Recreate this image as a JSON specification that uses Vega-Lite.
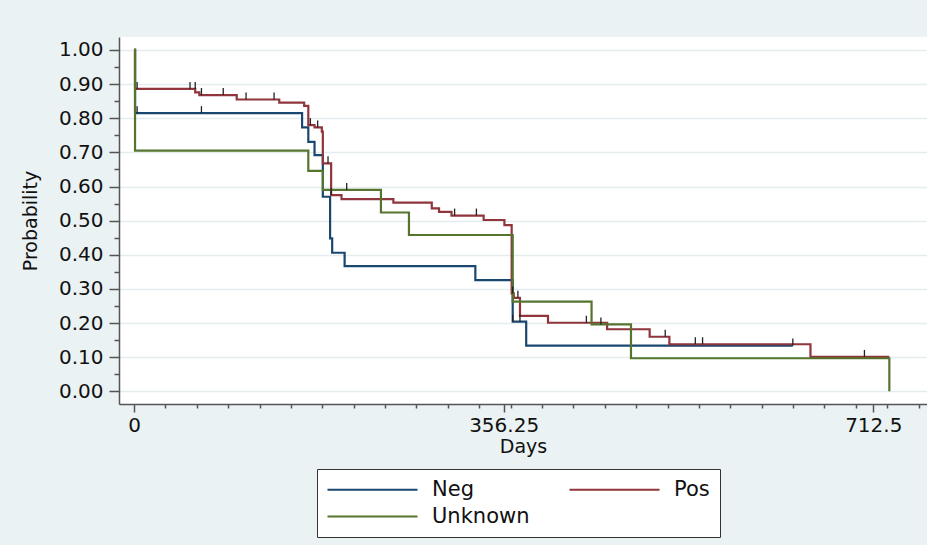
{
  "$schema": "https://vega.github.io/schema/vega-lite/v6.json",
  "width": 808,
  "height": 367,
  "autosize": {"type": "none"},
  "padding": {"left": 119, "top": 37, "right": 0, "bottom": 141},
  "background": "#EAF2F3",
  "config": {
    "font": "DejaVu Sans",
    "view": {"fill": "white", "stroke": null},
    "axis": {
      "domainColor": "#555555",
      "domainWidth": 1.5,
      "tickColor": "#555555",
      "tickWidth": 1.5,
      "labelColor": "#111111",
      "titleColor": "#111111",
      "titleFontWeight": "normal"
    }
  },
  "datasets": {
    "curves": [
      {"group": "Neg", "day": 0, "surv": 1.0},
      {"group": "Neg", "day": 1, "surv": 0.815},
      {"group": "Neg", "day": 162, "surv": 0.773},
      {"group": "Neg", "day": 168, "surv": 0.731},
      {"group": "Neg", "day": 174, "surv": 0.692},
      {"group": "Neg", "day": 182, "surv": 0.570},
      {"group": "Neg", "day": 189, "surv": 0.448},
      {"group": "Neg", "day": 191, "surv": 0.406},
      {"group": "Neg", "day": 203, "surv": 0.367},
      {"group": "Neg", "day": 329, "surv": 0.326},
      {"group": "Neg", "day": 365, "surv": 0.204},
      {"group": "Neg", "day": 378, "surv": 0.134},
      {"group": "Neg", "day": 635, "surv": 0.134},
      {"group": "Pos", "day": 0, "surv": 1.0},
      {"group": "Pos", "day": 1, "surv": 0.886},
      {"group": "Pos", "day": 59, "surv": 0.876},
      {"group": "Pos", "day": 63, "surv": 0.868},
      {"group": "Pos", "day": 99, "surv": 0.855},
      {"group": "Pos", "day": 140, "surv": 0.846},
      {"group": "Pos", "day": 164, "surv": 0.836},
      {"group": "Pos", "day": 168, "surv": 0.780},
      {"group": "Pos", "day": 174, "surv": 0.773},
      {"group": "Pos", "day": 181, "surv": 0.761},
      {"group": "Pos", "day": 182, "surv": 0.668},
      {"group": "Pos", "day": 190, "surv": 0.575},
      {"group": "Pos", "day": 200, "surv": 0.563},
      {"group": "Pos", "day": 250, "surv": 0.553},
      {"group": "Pos", "day": 287, "surv": 0.536},
      {"group": "Pos", "day": 294, "surv": 0.526},
      {"group": "Pos", "day": 306, "surv": 0.515},
      {"group": "Pos", "day": 337, "surv": 0.502},
      {"group": "Pos", "day": 357, "surv": 0.487},
      {"group": "Pos", "day": 364, "surv": 0.287},
      {"group": "Pos", "day": 366, "surv": 0.274},
      {"group": "Pos", "day": 372, "surv": 0.221},
      {"group": "Pos", "day": 399, "surv": 0.201},
      {"group": "Pos", "day": 456, "surv": 0.182},
      {"group": "Pos", "day": 497, "surv": 0.160},
      {"group": "Pos", "day": 516, "surv": 0.138},
      {"group": "Pos", "day": 652, "surv": 0.101},
      {"group": "Pos", "day": 728, "surv": 0.101},
      {"group": "Unknown", "day": 0, "surv": 1.0},
      {"group": "Unknown", "day": 1, "surv": 0.705},
      {"group": "Unknown", "day": 168, "surv": 0.646},
      {"group": "Unknown", "day": 182, "surv": 0.590},
      {"group": "Unknown", "day": 238, "surv": 0.524},
      {"group": "Unknown", "day": 265, "surv": 0.458},
      {"group": "Unknown", "day": 365, "surv": 0.263},
      {"group": "Unknown", "day": 441, "surv": 0.196},
      {"group": "Unknown", "day": 479, "surv": 0.097},
      {"group": "Unknown", "day": 728, "surv": 0.0}
    ],
    "censored": [
      {"group": "Neg", "day": 3, "surv": 0.815},
      {"group": "Neg", "day": 65, "surv": 0.815},
      {"group": "Neg", "day": 365, "surv": 0.204},
      {"group": "Neg", "day": 372, "surv": 0.204},
      {"group": "Neg", "day": 635, "surv": 0.134},
      {"group": "Pos", "day": 3, "surv": 0.886},
      {"group": "Pos", "day": 54, "surv": 0.886},
      {"group": "Pos", "day": 59, "surv": 0.886},
      {"group": "Pos", "day": 65, "surv": 0.868},
      {"group": "Pos", "day": 86, "surv": 0.868},
      {"group": "Pos", "day": 108, "surv": 0.855},
      {"group": "Pos", "day": 135, "surv": 0.855},
      {"group": "Pos", "day": 170, "surv": 0.780},
      {"group": "Pos", "day": 177, "surv": 0.773},
      {"group": "Pos", "day": 187, "surv": 0.668},
      {"group": "Pos", "day": 190, "surv": 0.575},
      {"group": "Pos", "day": 309, "surv": 0.515},
      {"group": "Pos", "day": 330, "surv": 0.515},
      {"group": "Pos", "day": 365, "surv": 0.287},
      {"group": "Pos", "day": 370, "surv": 0.274},
      {"group": "Pos", "day": 436, "surv": 0.201},
      {"group": "Pos", "day": 512, "surv": 0.160},
      {"group": "Pos", "day": 541, "surv": 0.138},
      {"group": "Pos", "day": 548, "surv": 0.138},
      {"group": "Pos", "day": 704, "surv": 0.101},
      {"group": "Unknown", "day": 205, "surv": 0.590},
      {"group": "Unknown", "day": 450, "surv": 0.196}
    ]
  },
  "layer": [
    {
      "data": {"name": "curves"},
      "mark": {"type": "line", "interpolate": "step-after", "strokeWidth": 2.2},
      "encoding": {
        "x": {
          "field": "day",
          "type": "quantitative",
          "scale": {"domain": [-14.46, 764.3], "nice": false, "zero": false},
          "axis": {
            "orient": "bottom",
            "values": [0, 356.25, 712.5],
            "labelExpr": "datum.value + ''",
            "tickSize": 8,
            "labelFontSize": 20,
            "labelPadding": 3,
            "labelFlush": false,
            "labelOverlap": false,
            "grid": false,
            "title": "Days",
            "titleFontSize": 19,
            "titlePadding": 2
          }
        },
        "y": {
          "field": "surv",
          "type": "quantitative",
          "scale": {"domain": [-0.037, 1.038], "nice": false, "zero": false},
          "axis": {
            "orient": "left",
            "values": [0, 0.1, 0.2, 0.3, 0.4, 0.5, 0.6, 0.7, 0.8, 0.9, 1.0],
            "format": ".2f",
            "tickSize": 10,
            "labelFontSize": 20,
            "labelPadding": 6,
            "labelFlush": false,
            "labelOverlap": false,
            "grid": true,
            "gridColor": "#E4ECEE",
            "gridWidth": 1.5,
            "title": "Probability",
            "titleFontSize": 19,
            "titlePadding": 18
          }
        },
        "color": {
          "field": "group",
          "type": "nominal",
          "scale": {"domain": ["Neg", "Pos", "Unknown"], "range": ["#1a476f", "#90353b", "#55752f"]},
          "legend": {
            "title": null,
            "orient": "none",
            "legendX": 198,
            "legendY": 432,
            "direction": "horizontal",
            "columns": 2,
            "symbolType": "M0,0H90",
            "symbolSize": 4,
            "symbolOffset": -10,
            "symbolStrokeWidth": 2,
            "labelFontSize": 21,
            "labelColor": "#111111",
            "labelOffset": 94,
            "columnPadding": 35,
            "rowPadding": 5,
            "padding": 10,
            "fillColor": "white",
            "strokeColor": "#333333",
            "cornerRadius": 0
          }
        }
      }
    },
    {
      "data": {"name": "censored"},
      "mark": {"type": "tick", "orient": "vertical", "size": 7, "thickness": 1.3, "yOffset": -3.5, "color": "#222222", "opacity": 1},
      "encoding": {
        "x": {
          "field": "day",
          "type": "quantitative",
          "axis": {
            "orient": "bottom",
            "values": [30.25, 60.5, 90.75, 121, 151.25, 181.5, 211.75, 242, 272.25, 302.5, 332.75, 363, 393.25, 423.5, 453.75, 484, 514.25, 544.5, 574.75, 605, 635.25, 665.5, 695.75, 726, 756.25],
            "tickSize": 4,
            "labels": false,
            "domain": false,
            "grid": false,
            "title": null
          }
        },
        "y": {
          "field": "surv",
          "type": "quantitative",
          "axis": {
            "orient": "left",
            "values": [0.05, 0.15, 0.25, 0.35, 0.45, 0.55, 0.65, 0.75, 0.85, 0.95],
            "tickSize": 5,
            "labels": false,
            "domain": false,
            "grid": false,
            "title": null
          }
        }
      }
    }
  ],
  "resolve": {"axis": {"x": "independent", "y": "independent"}}
}
